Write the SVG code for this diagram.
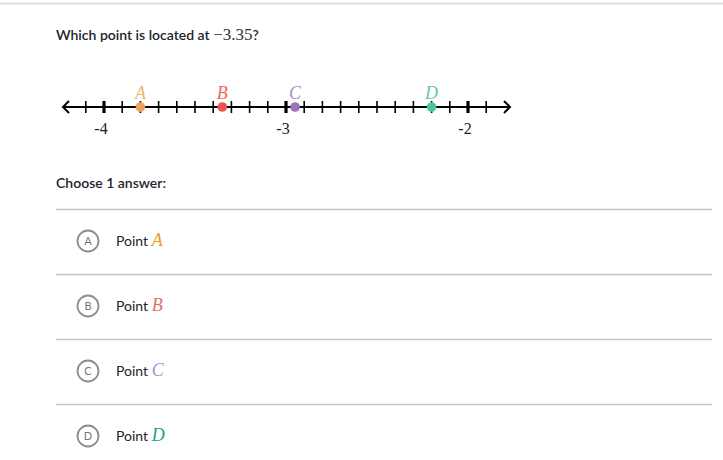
<svg xmlns="http://www.w3.org/2000/svg" width="723" height="460" viewBox="0 0 723 460">
<defs>
<style>
.ui{font-family:Lato,"Liberation Sans",sans-serif;fill:#21242c}
.q{font-size:14px;font-weight:600}
.math{font-family:"Liberation Serif","DejaVu Serif",serif}
.lbl{font-family:"Liberation Serif","DejaVu Serif",serif;font-style:italic;font-size:18px}
.tick{stroke:#000;stroke-width:1.6}
.major{stroke:#000;stroke-width:3.2}
.sep{stroke:#c4c4c6;stroke-width:1.3}
.badge{fill:#fff;stroke:#888d93;stroke-width:1.8}
.bt{font-family:Lato,"Liberation Sans",sans-serif;font-size:11px;fill:#777;text-anchor:middle}
.opt{font-family:Lato,"Liberation Sans",sans-serif;font-size:14px;fill:#21242c}
.ol{font-family:"Liberation Serif","DejaVu Serif",serif;font-style:italic;font-size:18px}
.tl{font-family:"Liberation Serif","DejaVu Serif",serif;font-size:16px;fill:#222;text-anchor:middle}
</style>
</defs>
<rect width="723" height="460" fill="#fff"/>
<line x1="0" y1="3.5" x2="723" y2="3.5" stroke="#d8d8da" stroke-width="1.3"/>
<text class="ui q" x="56" y="40">Which point is located at <tspan class="math" font-weight="400" font-size="17" fill="#333">−3.35</tspan>?</text>

<g id="numberline">
<line x1="63" y1="107" x2="510" y2="107" stroke="#000" stroke-width="2"/>
<path d="M69,101 L63,107 L69,113" fill="none" stroke="#000" stroke-width="2"/>
<path d="M504,101 L510,107 L504,113" fill="none" stroke="#000" stroke-width="2"/>
<g class="tick">
<line x1="85.8" y1="101" x2="85.8" y2="113"/>
<line x1="122.2" y1="101" x2="122.2" y2="113"/>
<line x1="140.4" y1="101" x2="140.4" y2="113"/>
<line x1="158.6" y1="101" x2="158.6" y2="113"/>
<line x1="176.8" y1="101" x2="176.8" y2="113"/>
<line x1="195" y1="101" x2="195" y2="113"/>
<line x1="213.2" y1="101" x2="213.2" y2="113"/>
<line x1="231.4" y1="101" x2="231.4" y2="113"/>
<line x1="249.6" y1="101" x2="249.6" y2="113"/>
<line x1="267.8" y1="101" x2="267.8" y2="113"/>
<line x1="304.2" y1="101" x2="304.2" y2="113"/>
<line x1="322.4" y1="101" x2="322.4" y2="113"/>
<line x1="340.6" y1="101" x2="340.6" y2="113"/>
<line x1="358.8" y1="101" x2="358.8" y2="113"/>
<line x1="377" y1="101" x2="377" y2="113"/>
<line x1="395.2" y1="101" x2="395.2" y2="113"/>
<line x1="413.4" y1="101" x2="413.4" y2="113"/>
<line x1="431.6" y1="101" x2="431.6" y2="113"/>
<line x1="449.8" y1="101" x2="449.8" y2="113"/>
<line x1="486.2" y1="101" x2="486.2" y2="113"/>
</g>
<g class="major">
<line x1="104" y1="101" x2="104" y2="113"/>
<line x1="286" y1="101" x2="286" y2="113"/>
<line x1="468" y1="101" x2="468" y2="113"/>
</g>
<text class="tl" x="101" y="134">-4</text>
<text class="tl" x="283" y="134">-3</text>
<text class="tl" x="465" y="134">-2</text>
</g>

<g id="pointA"><circle cx="140.4" cy="107" r="4.8" fill="#eba259"/><text class="lbl" x="140.4" y="99" text-anchor="middle" fill="#f0b878">A</text></g>
<g id="pointB"><circle cx="222.3" cy="107" r="4.8" fill="#f0524c"/><text class="lbl" x="222.3" y="99" text-anchor="middle" fill="#ee6a5e">B</text></g>
<g id="pointC"><circle cx="295.1" cy="107" r="4.8" fill="#a070b8"/><text class="lbl" x="295.1" y="99" text-anchor="middle" fill="#a98ec8">C</text></g>
<g id="pointD"><circle cx="431.6" cy="107" r="4.8" fill="#4ec4a4"/><text class="lbl" x="431.6" y="99" text-anchor="middle" fill="#6cc3b2">D</text></g>

<text class="ui q" x="56" y="188">Choose 1 answer:</text>

<g id="separators">
<line class="sep" x1="56" y1="209.5" x2="712" y2="209.5"/>
<line class="sep" x1="56" y1="274.5" x2="712" y2="274.5"/>
<line class="sep" x1="56" y1="339.5" x2="712" y2="339.5"/>
<line class="sep" x1="56" y1="404.5" x2="712" y2="404.5"/>
</g>

<g id="choiceA"><circle class="badge" cx="88" cy="241" r="10.5"/><text class="bt" x="88" y="245">A</text><text class="opt" x="116" y="246">Point <tspan class="ol" fill="#e9a02a">A</tspan></text></g>
<g id="choiceB"><circle class="badge" cx="88" cy="306" r="10.5"/><text class="bt" x="88" y="310">B</text><text class="opt" x="116" y="311">Point <tspan class="ol" fill="#e6705e">B</tspan></text></g>
<g id="choiceC"><circle class="badge" cx="88" cy="371" r="10.5"/><text class="bt" x="88" y="375">C</text><text class="opt" x="116" y="376">Point <tspan class="ol" fill="#9a96e0">C</tspan></text></g>
<g id="choiceD"><circle class="badge" cx="88" cy="436" r="10.5"/><text class="bt" x="88" y="440">D</text><text class="opt" x="116" y="441">Point <tspan class="ol" fill="#1aa08c">D</tspan></text></g>
</svg>
